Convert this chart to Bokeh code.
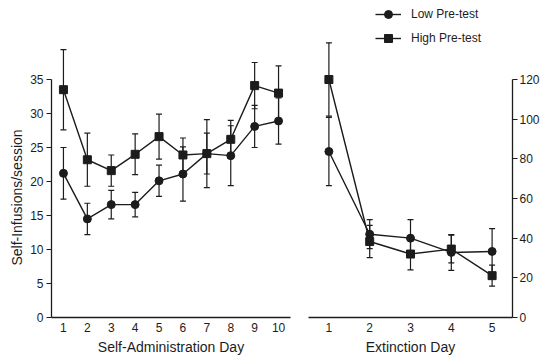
import math
from bokeh.plotting import figure
from bokeh.models import (Range1d, Whisker, TeeHead, ColumnDataSource, Legend,
                          LegendItem, FixedTicker)
from bokeh.core.properties import value
from bokeh.layouts import row
from bokeh.embed import file_html
from bokeh.resources import INLINE

# ---------------- data ----------------
sa_days = [1, 2, 3, 4, 5, 6, 7, 8, 9, 10]
sa_low = [21.2, 14.5, 16.6, 16.6, 20.1, 21.1, 24.1, 23.8, 28.1, 28.9]
sa_low_sem = [3.8, 2.3, 2.1, 1.8, 2.3, 4.0, 3.0, 4.4, 3.1, 3.4]
sa_high = [33.5, 23.2, 21.6, 24.0, 26.6, 23.9, 24.1, 26.2, 34.1, 33.0]
sa_high_sem = [5.9, 3.9, 2.3, 3.0, 3.3, 2.5, 5.0, 2.8, 3.4, 4.0]

ext_days = [1, 2, 3, 4, 5]
ext_low = [83.7, 42.0, 40.0, 32.8, 33.3]
ext_low_sem = [17.2, 7.3, 9.3, 9.0, 11.5]
ext_high = [120.0, 38.3, 32.0, 34.5, 21.1]
ext_high_sem = [18.5, 8.1, 8.0, 7.0, 5.3]

left_ticks = [0, 5, 10, 15, 20, 25, 30, 35]
right_ticks = [0, 20, 40, 60, 80, 100, 120]

x_label_left = "Self-Administration Day"
x_label_right = "Extinction Day"
y_label_left = "Self-Infusions/session"
series_names = ["Low Pre-test", "High Pre-test"]

INK = "#1c1c1c"
FONT = "Liberation Sans"
FRAME_H = 317


def src(days, mean, sem):
    return ColumnDataSource(dict(
        x=days, y=mean,
        lower=[m - s for m, s in zip(mean, sem)],
        upper=[m + s for m, s in zip(mean, sem)],
    ))


def style(p):
    p.outline_line_color = None
    p.xgrid.visible = False
    p.ygrid.visible = False
    p.background_fill_color = "white"
    p.border_fill_color = "white"
    for ax in p.axis:
        ax.axis_line_color = INK
        ax.axis_line_width = 1.3
        ax.major_tick_line_color = INK
        ax.major_tick_line_width = 1.2
        ax.minor_tick_line_color = None
        ax.major_label_text_font = FONT
        ax.major_label_text_font_size = "12px"
        ax.major_label_text_color = INK
        ax.axis_label_text_font = FONT
        ax.axis_label_text_font_size = "14px"
        ax.axis_label_text_font_style = "normal"
        ax.axis_label_text_color = INK


def draw(p, days, mean, sem, marker):
    s = src(days, mean, sem)
    w = Whisker(source=s, base="x", upper="upper", lower="lower",
                line_color=INK, line_width=1.2,
                upper_head=TeeHead(size=6, line_color=INK, line_width=1.2),
                lower_head=TeeHead(size=6, line_color=INK, line_width=1.2))
    p.add_layout(w)
    ln = p.line("x", "y", source=s, line_color=INK, line_width=1.4)
    mk = p.scatter("x", "y", source=s, marker=marker, size=8,
                   fill_color=INK, line_color=INK)
    return ln, mk


# ---------------- y-axis title strip ----------------
p0 = figure(frame_width=26, frame_height=FRAME_H,
            x_range=Range1d(0, 26), y_range=Range1d(0, FRAME_H),
            output_backend="svg", toolbar_location=None,
            min_border_left=0, min_border_right=0,
            min_border_top=0, min_border_bottom=40)
p0.axis.visible = False
p0.xgrid.visible = False
p0.ygrid.visible = False
p0.outline_line_color = None
p0.text(x=[16], y=[120], text=[y_label_left], angle=math.pi / 2,
        text_align="center", text_baseline="middle",
        text_font=value(FONT), text_font_size="14px", text_color=INK)

# ---------------- left panel ----------------
p1 = figure(frame_width=239, frame_height=FRAME_H,
            x_range=Range1d(0.5, 10.5), y_range=Range1d(0, FRAME_H / 6.8),
            output_backend="svg", toolbar_location=None,
            min_border_left=25, min_border_right=8,
            min_border_top=0, min_border_bottom=40)
draw(p1, sa_days, sa_low, sa_low_sem, "circle")
draw(p1, sa_days, sa_high, sa_high_sem, "square")
style(p1)
p1.xaxis.ticker = FixedTicker(ticks=sa_days)
p1.xaxis.major_tick_out = 0
p1.xaxis.major_tick_in = 0
p1.xaxis.major_label_standoff = 5
p1.xaxis.axis_label = x_label_left
p1.xaxis.axis_label_standoff = 4
p1.yaxis.ticker = FixedTicker(ticks=left_ticks)
p1.yaxis.bounds = (0, 35)
p1.yaxis.major_tick_out = 5
p1.yaxis.major_tick_in = 0
p1.yaxis.major_label_standoff = 3

# ---------------- right panel ----------------
p2 = figure(frame_width=204, frame_height=FRAME_H,
            x_range=Range1d(0.5, 5.5), y_range=Range1d(0, FRAME_H * 120 / 238),
            output_backend="svg", toolbar_location=None,
            y_axis_location="right",
            min_border_left=10, min_border_right=36,
            min_border_top=0, min_border_bottom=40)
l_ln, l_mk = draw(p2, ext_days, ext_low, ext_low_sem, "circle")
h_ln, h_mk = draw(p2, ext_days, ext_high, ext_high_sem, "square")
style(p2)
p2.xaxis.ticker = FixedTicker(ticks=ext_days)
p2.xaxis.major_tick_out = 0
p2.xaxis.major_tick_in = 0
p2.xaxis.major_label_standoff = 5
p2.xaxis.axis_label = x_label_right
p2.xaxis.axis_label_standoff = 4
p2.yaxis.ticker = FixedTicker(ticks=right_ticks)
p2.yaxis.bounds = (0, 120)
p2.yaxis.major_tick_out = 5
p2.yaxis.major_tick_in = 0
p2.yaxis.major_label_standoff = 2

legend = Legend(items=[LegendItem(label=series_names[0], renderers=[l_ln, l_mk]),
                       LegendItem(label=series_names[1], renderers=[h_ln, h_mk])],
                location=(67, 269), padding=0, margin=0, spacing=4,
                glyph_width=26, glyph_height=20, label_height=20,
                label_standoff=10, label_text_font=FONT,
                label_text_font_size="12px", label_text_color=INK,
                border_line_color=None, background_fill_alpha=0)
p2.add_layout(legend)

layout = row(p0, p1, p2, spacing=0)
open("out.html", "w").write(file_html(layout, INLINE))
